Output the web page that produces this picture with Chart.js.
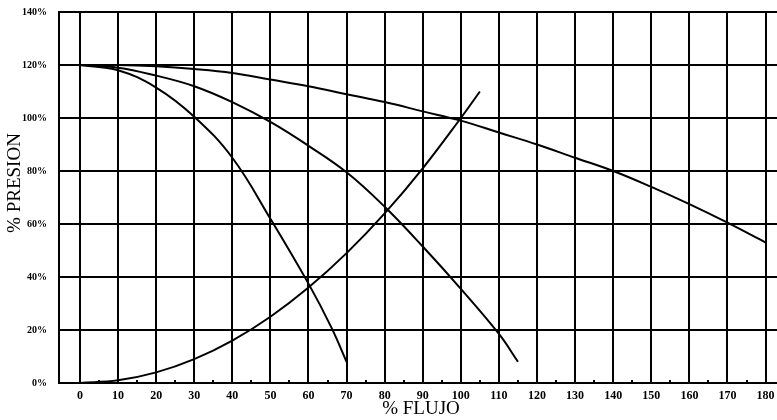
<!DOCTYPE html>
<html>
<head>
<meta charset="utf-8">
<script src="https://cdn.jsdelivr.net/npm/chart.js@4"></script>
<style>
	body { margin: 0; background: #fff; }
	#caja { width: 777px; height: 420px; position: relative; }
</style>
</head>
<body>
<div id="caja"><canvas id="graficoCurvas"></canvas></div>
<script>
// ejes
const FLUJO_TICKS = [0, 10, 20, 30, 40, 50, 60, 70, 80, 90, 100, 110, 120, 130, 140, 150, 160, 170, 180]
const PRESION_TICKS = [0, 20, 40, 60, 80, 100, 120, 140]

// curvas de la bomba (flujo %, presion %)
const flujoA = [0, 10, 20, 30, 40, 50, 60, 66, 70]
const presionA = [120, 118, 111.5, 100.5, 85, 62, 37.5, 21, 8]

const flujoB = [0, 10, 20, 30, 40, 50, 60, 70, 80, 90, 100, 110, 115]
const presionB = [120, 119, 116, 112, 106, 98.5, 89.5, 79.5, 66.5, 51.5, 35.5, 18.5, 8]

const flujoC = [0, 10, 20, 30, 40, 50, 60, 70, 80, 90, 100, 110, 120, 130, 140, 150, 160, 170, 180]
const presionC = [120, 120, 119.5, 118.5, 117, 114.5, 112, 109, 106, 102.5, 99, 94.5, 90, 85, 80, 74, 67.5, 60.5, 53]

// curva del sistema
const flujoSistema = [0, 10, 20, 30, 40, 50, 60, 70, 80, 90, 100, 105]
const presionSistema = [0, 1, 4, 9, 16, 25, 36, 49, 64, 81, 100, 110]

function puntos(xs, ys) {
	return xs.map((x, i) => ({ x: x, y: ys[i] }))
}

function curva(xs, ys) {
	return {
		data: puntos(xs, ys),
		borderColor: "#000",
		borderWidth: 2,
		pointRadius: 0,
		fill: false,
		tension: 0.4,
	}
}

// marcas chicas cada 5 y titulos de los ejes
const extras = {
	id: "extras",
	afterDatasetsDraw(chart) {
		const ctx = chart.ctx
		const area = chart.chartArea
		const sx = chart.scales.x
		ctx.save()
		ctx.fillStyle = "#000"
		for (let v = 5; v < 180; v += 10) {
			let px = Math.round(sx.getPixelForValue(v))
			ctx.fillRect(px - 1, area.bottom - 3, 2, 3)
		}
		ctx.font = "19px 'Liberation Serif'"
		ctx.textAlign = "center"
		ctx.textBaseline = "middle"
		ctx.fillText("% FLUJO", 421, 409)
		ctx.translate(15, 183)
		ctx.rotate(-Math.PI / 2)
		ctx.fillText("% PRESION", 0, 0)
		ctx.restore()
	},
}

const config = {
	type: "line",
	data: {
		datasets: [
			curva(flujoA, presionA),
			curva(flujoB, presionB),
			curva(flujoC, presionC),
			curva(flujoSistema, presionSistema),
		],
	},
	options: {
		responsive: true,
		maintainAspectRatio: false,
		animation: false,
		layout: { padding: { top: 12, right: 0, left: 0, bottom: 0 } },
		plugins: {
			legend: { display: false },
			tooltip: { enabled: false },
		},
		scales: {
			x: {
				type: "linear",
				min: -5.5,
				max: 183,
				afterBuildTicks: (scale) => {
					scale.ticks = FLUJO_TICKS.map((v) => ({ value: v }))
				},
				afterFit: (scale) => {
					scale.height = 37
					scale.paddingLeft = 0
					scale.paddingRight = 0
				},
				grid: { color: "#000", lineWidth: 2, drawTicks: false },
				border: { color: "#000", width: 2 },
				ticks: {
					color: "#000",
					padding: 6,
					maxRotation: 0,
					autoSkip: false,
					font: { family: "'Liberation Serif'", size: 12, weight: "bold" },
				},
			},
			y: {
				min: 0,
				max: 140,
				afterBuildTicks: (scale) => {
					scale.ticks = PRESION_TICKS.map((v) => ({ value: v }))
				},
				afterFit: (scale) => {
					scale.width = 59
					scale.paddingTop = 0
					scale.paddingBottom = 0
				},
				grid: { color: "#000", lineWidth: 2, drawTicks: false },
				border: { color: "#000", width: 2 },
				ticks: {
					color: "#000",
					padding: 12,
					font: { family: "'Liberation Serif'", size: 10, weight: "bold" },
					callback: (v) => v + "%",
				},
			},
		},
	},
	plugins: [extras],
}

var graficoCurvas = new Chart(document.getElementById("graficoCurvas"), config)
</script>
</body>
</html>
